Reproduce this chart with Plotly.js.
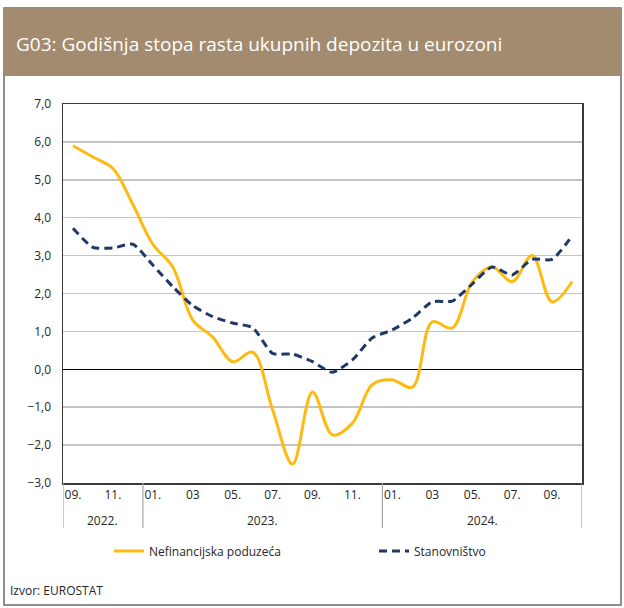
<!DOCTYPE html>
<html>
<head>
<meta charset="utf-8">
<script src="https://cdn.plot.ly/plotly-3.0.1.min.js"></script>
<style>
html,body{margin:0;padding:0;background:#fff;}
#chart{width:624px;height:608px;}
</style>
</head>
<body>
<div id="chart"></div>
<script>
// ---- data ----
const months = ['2022-09','2022-10','2022-11','2022-12','2023-01','2023-02','2023-03','2023-04','2023-05','2023-06','2023-07','2023-08','2023-09','2023-10','2023-11','2023-12','2024-01','2024-02','2024-03','2024-04','2024-05','2024-06','2024-07','2024-08','2024-09','2024-10'];
const nefinancijska = [5.9, 5.6, 5.3, 4.35, 3.3, 2.7, 1.3, 0.85, 0.2, 0.45, -1.07, -2.5, -0.6, -1.73, -1.42, -0.4, -0.28, -0.47, 1.25, 1.09, 2.3, 2.7, 2.31, 3.0, 1.78, 2.31];
const stanovnistvo = [3.72, 3.22, 3.2, 3.3, 2.75, 2.18, 1.68, 1.39, 1.22, 1.1, 0.42, 0.4, 0.2, -0.08, 0.25, 0.83, 1.04, 1.35, 1.78, 1.8, 2.25, 2.7, 2.49, 2.9, 2.9, 3.52];
const tickMonths = ['2022-09','2022-11','2023-01','2023-03','2023-05','2023-07','2023-09','2023-11','2024-01','2024-03','2024-05','2024-07','2024-09'];
const tickLabels = ['09.','11.','01.','03','05.','07.','09.','11.','01.','03','05.','07.','09.'];
const years = ['2022.','2023.','2024.'];
const yearCenters = [1.5, 9.5, 20.5];
const yearSeparators = [-0.5, 3.5, 15.5, 25.5];
const seriesNames = ['Nefinancijska poduzeća','Stanovništvo'];
const titleText = 'G03: Godišnja stopa rasta ukupnih depozita u eurozoni';
const sourceText = 'Izvor: EUROSTAT';

const FONT = 'Open Sans, sans-serif';
const traces = [
  {x: months, y: nefinancijska, name: seriesNames[0], type: 'scatter', mode: 'lines', legend: 'legend',
   line: {color: '#FDBA12', width: 3, shape: 'spline', smoothing: 1}},
  {x: months, y: stanovnistvo, name: seriesNames[1], type: 'scatter', mode: 'lines', legend: 'legend2',
   line: {color: '#1F3864', width: 3, dash: '8px,5px', shape: 'spline', smoothing: 0.6}}
];

// pixel -> paper helpers (plot area 63..582 x, 104..483 y)
const L = 63, R = 582, T = 104, B = 483;
const px = v => (v - L) / (R - L);
const py = v => (B - v) / (B - T);

const shapes = [
  {type: 'rect', xref: 'paper', yref: 'paper', x0: px(4), x1: px(621), y0: py(605), y1: py(8),
   line: {color: '#6b6b6b', width: 1.5}, fillcolor: 'rgba(0,0,0,0)', layer: 'below'},
  {type: 'rect', xref: 'paper', yref: 'paper', x0: px(4), x1: px(621), y0: py(76), y1: py(8),
   line: {width: 0}, fillcolor: '#A28B6F', layer: 'below'}
];
yearSeparators.forEach(v => shapes.push({type: 'line', xref: 'x', yref: 'paper', x0: v, x1: v,
  y0: py(528), y1: 0, line: {color: '#A6A6A6', width: 1.2}}));

const annotations = years.map((t, i) => ({text: t, x: yearCenters[i], xref: 'x', y: py(520), yref: 'paper',
  showarrow: false, xanchor: 'center', yanchor: 'middle', font: {family: FONT, size: 12, color: '#262626'}}));
annotations.push({text: sourceText, xref: 'paper', yref: 'paper', x: px(8), y: py(590), xanchor: 'left', yanchor: 'middle',
  showarrow: false, font: {family: FONT, size: 12, color: '#262626'}});

const legendBase = {orientation: 'h', xanchor: 'left', yanchor: 'middle', font: {family: FONT, size: 12, color: '#262626'},
  bgcolor: 'rgba(0,0,0,0)'};

const layout = {
  width: 624, height: 608,
  margin: {l: L, r: 624 - R, t: T, b: 608 - B, pad: 0},
  paper_bgcolor: '#fff', plot_bgcolor: '#fff',
  separators: ',.',
  font: {family: FONT, size: 12, color: '#262626'},
  title: {text: titleText, x: 16 / 624, xref: 'container', xanchor: 'left', y: 1 - 44 / 608, yref: 'container', yanchor: 'middle',
          font: {family: FONT, size: 19, color: '#ffffff'}},
  xaxis: {type: 'category', range: [-0.5, 25.5], tickvals: tickMonths, ticktext: tickLabels, showgrid: false,
          showline: true, mirror: true, linecolor: '#3a3a3a', linewidth: 1.5, ticks: '', zeroline: false,
          tickfont: {family: FONT, size: 12, color: '#262626'}, fixedrange: true},
  yaxis: {range: [-3, 7], dtick: 1, tick0: 0, tickformat: '.1f', showgrid: true, gridcolor: '#C4C4C4', gridwidth: 1.5,
          zeroline: true, zerolinecolor: '#000000', zerolinewidth: 1.2,
          showline: true, mirror: true, linecolor: '#3a3a3a', linewidth: 1.5, ticks: '', ticklabelstandoff: 8,
          tickfont: {family: FONT, size: 12, color: '#262626'}, fixedrange: true},
  showlegend: true,
  legend: Object.assign({}, legendBase, {x: px(109), y: py(551)}),
  legend2: Object.assign({}, legendBase, {x: px(374), y: py(551)}),
  shapes: shapes,
  annotations: annotations
};

Plotly.newPlot('chart', traces, layout, {displayModeBar: false, staticPlot: true});
</script>
</body>
</html>
